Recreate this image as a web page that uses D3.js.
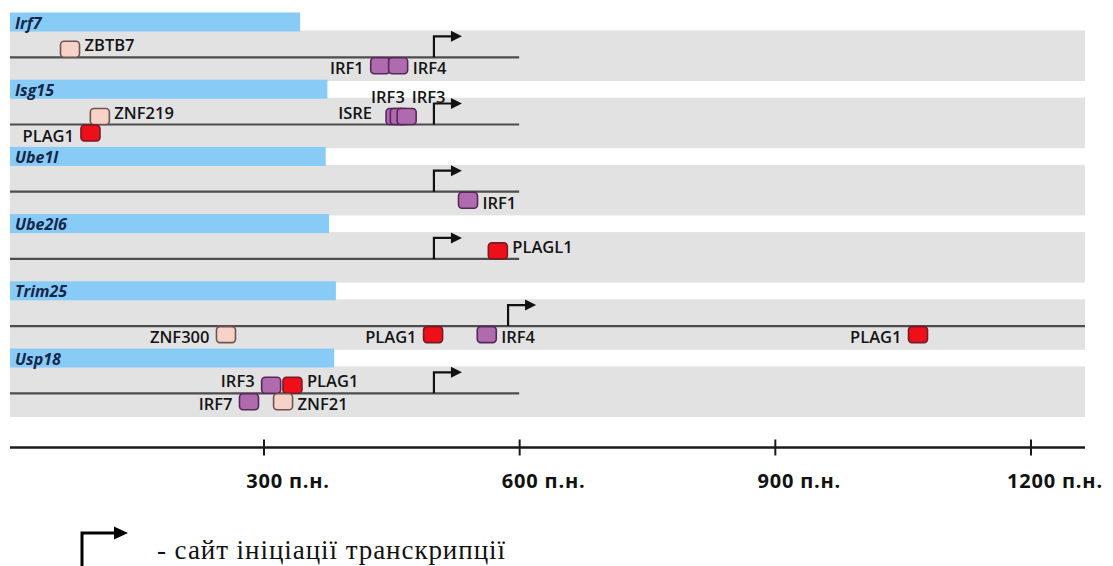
<!DOCTYPE html>
<html><head><meta charset="utf-8">
<script src="https://cdn.jsdelivr.net/npm/d3@7"></script>
<style>body{margin:0;background:#fff}svg{display:block}</style>
</head><body>
<svg id="chart" width="1113" height="566"></svg>
<script>
// ---------- data ----------
const genes = ["Irf7", "Isg15", "Ube1l", "Ube2l6", "Trim25", "Usp18"];
const headerEnd = [343, 375, 373, 377, 385, 383];      // bp extent of gene header bar
const tssBp = [500, 500, 500, 500, 587, 500];          // transcription start site, bp
const promoterEnd = [600, 600, 600, 600, 1264, 600];   // bp end of drawn region

const siteGene = ["Irf7","Irf7","Irf7","Isg15","Isg15","Isg15","Isg15","Isg15","Ube1l","Ube2l6","Trim25","Trim25","Trim25","Trim25","Usp18","Usp18","Usp18","Usp18"];
const siteName = ["ZBTB7","IRF1","IRF4","ZNF219","PLAG1","ISRE","IRF3","IRF3","IRF1","PLAGL1","ZNF300","PLAG1","IRF4","PLAG1","IRF3","PLAG1","IRF7","ZNF21"];
const siteBp   = [73, 437, 458, 108, 97, 455, 460, 468, 540, 575, 256, 499, 562, 1068, 309, 334, 283, 323];
const siteStrand = ["+","-","-","+","-","+","+","+","-","+","-","-","-","-","+","+","-","-"];
const siteFamily = ["ZNF","IRF","IRF","ZNF","PLAG","IRF","IRF","IRF","IRF","PLAG","ZNF","PLAG","IRF","PLAG","IRF","PLAG","IRF","ZNF"];
const siteLabelSide = ["R","L","R","R","L","L","UL","UR","R","R","L","L","R","L","L","R","L","R"];

const axisTicks = [300, 600, 900, 1200];
const axisTickLabels = ["300 п.н.", "600 п.н.", "900 п.н.", "1200 п.н."];
const legendText = "- сайт ініціації транскрипції";

// ---------- layout / style ----------
const svg = d3.select("#chart");
const left = 10, right = 1085;
const x = d3.scaleLinear().domain([0, 1200]).range([7.8, 1030.5]);
const y = d3.scaleBand().domain(genes).range([12.5, 12.5 + 67.2 * genes.length]).paddingInner(0);
const familyFill = {ZNF: "#f7d2c8", IRF: "#b06bae", PLAG: "#ef0f18"};
const familyStroke = {ZNF: "#6f5450", IRF: "#56285a", PLAG: "#731c2c"};
const lineOff = 44.8, boxW = 19, boxH = 16;
const lineY = g => y(g) + lineOff;

// grey bands
svg.append("g").selectAll("rect").data(genes).join("rect")
  .attr("x", left).attr("width", right - left)
  .attr("y", d => y(d) + 18).attr("height", 50.5)
  .attr("fill", "#e2e2e2");

// blue header bars
svg.append("g").selectAll("rect").data(genes).join("rect")
  .attr("x", left).attr("width", (d, i) => x(headerEnd[i]) - left)
  .attr("y", d => y(d)).attr("height", 19)
  .attr("fill", "#88cbf6");

// gene names
svg.append("g").selectAll("text").data(genes).join("text")
  .attr("x", 15).attr("y", d => y(d) + 16)
  .attr("font-family", "'Open Sans', sans-serif").attr("font-style", "italic")
  .attr("font-weight", 700).attr("font-size", 16).attr("fill", "#15264a")
  .text(d => d);

// promoter lines
svg.append("g").selectAll("line").data(genes).join("line")
  .attr("x1", left).attr("x2", (d, i) => Math.min(right, x(promoterEnd[i])))
  .attr("y1", d => lineY(d)).attr("y2", d => lineY(d))
  .attr("stroke", "#4d4d4d").attr("stroke-width", 2.2);

// TSS arrows
function arrow(g, x0, y0, h, len, head, hw, sw) {
  g.append("path").attr("d", `M${x0},${y0}V${y0 - h}H${x0 + len - head + 1}`)
    .attr("fill", "none").attr("stroke", "#111").attr("stroke-width", sw);
  g.append("path").attr("d", `M${x0 + len - head},${y0 - h - hw}L${x0 + len},${y0 - h}L${x0 + len - head},${y0 - h + hw}Z`)
    .attr("fill", "#111");
}
const tg = svg.append("g");
genes.forEach((g, i) => arrow(tg, x(tssBp[i]), lineY(g), 21, 28, 11, 5.5, 2.2));

// binding sites
const sites = siteName.map((n, i) => ({
  name: n, gene: siteGene[i], bp: siteBp[i], strand: siteStrand[i],
  fam: siteFamily[i], side: siteLabelSide[i]
}));
const sg = svg.append("g");
sg.selectAll("rect").data(sites).join("rect")
  .attr("x", d => x(d.bp) - boxW / 2).attr("width", boxW)
  .attr("y", d => d.strand === "+" ? lineY(d.gene) - boxH : lineY(d.gene) + 0.5)
  .attr("height", boxH).attr("rx", 3.5)
  .attr("fill", d => familyFill[d.fam]).attr("stroke", d => familyStroke[d.fam])
  .attr("stroke-width", 1.6);

sg.selectAll("text").data(sites).join("text")
  .attr("font-family", "'Open Sans', sans-serif").attr("font-weight", 600)
  .attr("font-size", 16.5).attr("fill", "#141414")
  .attr("text-anchor", d => (d.side === "L" || d.side === "UL") ? "end" : "start")
  .attr("x", d => {
    const cx = x(d.bp);
    if (d.side === "L") return cx - boxW / 2 - (d.strand === "+" && d.gene === "Isg15" ? 14 : 7);
    if (d.side === "R") return cx + boxW / 2 + 5;
    return cx + 5;
  })
  .attr("y", d => {
    const ly = lineY(d.gene);
    if (d.side === "UL" || d.side === "UR") return ly - 22;
    return d.strand === "+" ? ly - 6 : ly + 17;
  })
  .text(d => d.name);

// axis
const axisY = 447.5;
const ag = svg.append("g").attr("transform", `translate(0,${axisY})`);
ag.call(d3.axisBottom(x).tickValues(axisTicks)
  .tickFormat((d, i) => axisTickLabels[i]).tickSize(8).tickSizeOuter(0));
ag.select(".domain").remove();
ag.insert("line", ":first-child").attr("x1", left).attr("x2", right)
  .attr("stroke", "#1a1a1a").attr("stroke-width", 2.6);
ag.selectAll(".tick line").attr("y1", -8).attr("y2", 8)
  .attr("stroke", "#1a1a1a").attr("stroke-width", 2);
ag.selectAll(".tick text").attr("y", 40).attr("dy", 0).attr("dx", 24)
  .attr("text-anchor", "middle")
  .attr("font-family", "'Open Sans', sans-serif").attr("font-weight", 700)
  .attr("font-size", 20).attr("letter-spacing", 0.8).attr("fill", "#111");

// legend
const lg = svg.append("g");
lg.append("path").attr("d", "M82,566V533H116").attr("fill", "none")
  .attr("stroke", "#000").attr("stroke-width", 3);
lg.append("path").attr("d", "M114,526.5L128,533L114,539.5Z").attr("fill", "#000");
lg.append("text").attr("x", 157).attr("y", 559)
  .attr("font-family", "'Liberation Serif', 'Times New Roman', serif")
  .attr("font-size", 27).attr("fill", "#111")
  .attr("textLength", 348).attr("lengthAdjust", "spacing")
  .text(legendText);
</script>
</body></html>
